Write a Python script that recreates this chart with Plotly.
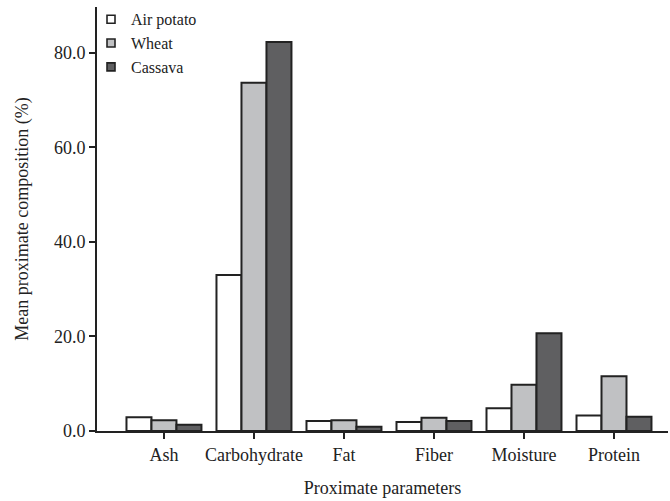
import plotly.graph_objects as go

categories = ["Ash", "Carbohydrate", "Fat", "Fiber", "Moisture", "Protein"]
air_potato = [2.9, 33.0, 2.1, 1.9, 4.8, 3.3]
wheat = [2.25, 73.7, 2.3, 2.8, 9.8, 11.6]
cassava = [1.3, 82.3, 0.9, 2.1, 20.7, 3.0]
series_names = ["Air potato", "Wheat", "Cassava"]
series_colors = ["#ffffff", "#c0c1c3", "#5f5f61"]
y_ticks = [0, 20, 40, 60, 80]

font = "Liberation Serif, Times New Roman, serif"
ink = "#222222"
fig = go.Figure()
for name, vals, col in zip(series_names, [air_potato, wheat, cassava], series_colors):
    fig.add_trace(go.Bar(
        x=categories, y=vals, name=name, showlegend=False,
        marker=dict(color=col, line=dict(color=ink, width=2)),
    ))
# legend entries with small square swatches
for name, col in zip(series_names, series_colors):
    fig.add_trace(go.Scatter(
        x=[None], y=[None], mode="markers", name=name,
        marker=dict(symbol="square", size=8, color=col, line=dict(color=ink, width=1.6)),
    ))

fig.update_layout(
    width=670, height=501,
    margin=dict(l=97, r=2, t=5, b=70),
    plot_bgcolor="white", paper_bgcolor="white",
    barmode="group", bargap=0.167, bargroupgap=0,
    font=dict(family=font, size=18, color=ink),
    showlegend=True,
    legend=dict(x=-0.0105, y=1.011, xanchor="left", yanchor="top",
                font=dict(family=font, size=16, color=ink),
                bgcolor="rgba(0,0,0,0)", itemwidth=30, tracegroupgap=0,
                itemclick=False, itemdoubleclick=False),
    xaxis=dict(
        range=[-0.744, 5.6], showline=True, linecolor=ink, linewidth=2,
        ticks="outside", ticklen=6, tickwidth=2, tickcolor=ink,
        showgrid=False, zeroline=False, automargin=False,
        title=dict(text="Proximate parameters", font=dict(family=font, size=18), standoff=18),
        tickfont=dict(family=font, size=18),
    ),
    yaxis=dict(
        range=[0, 89.7], showline=True, linecolor=ink, linewidth=2,
        ticks="outside", ticklen=6, tickwidth=2, tickcolor=ink,
        tickvals=y_ticks, tickformat=".1f",
        showgrid=False, zeroline=False, automargin=False,
        title=dict(text="Mean proximate composition (%)", font=dict(family=font, size=18), standoff=21),
        tickfont=dict(family=font, size=18),
    ),
)
fig.write_html("out.html", config={"displayModeBar": False},
               post_script="document.body.style.margin='0';")
